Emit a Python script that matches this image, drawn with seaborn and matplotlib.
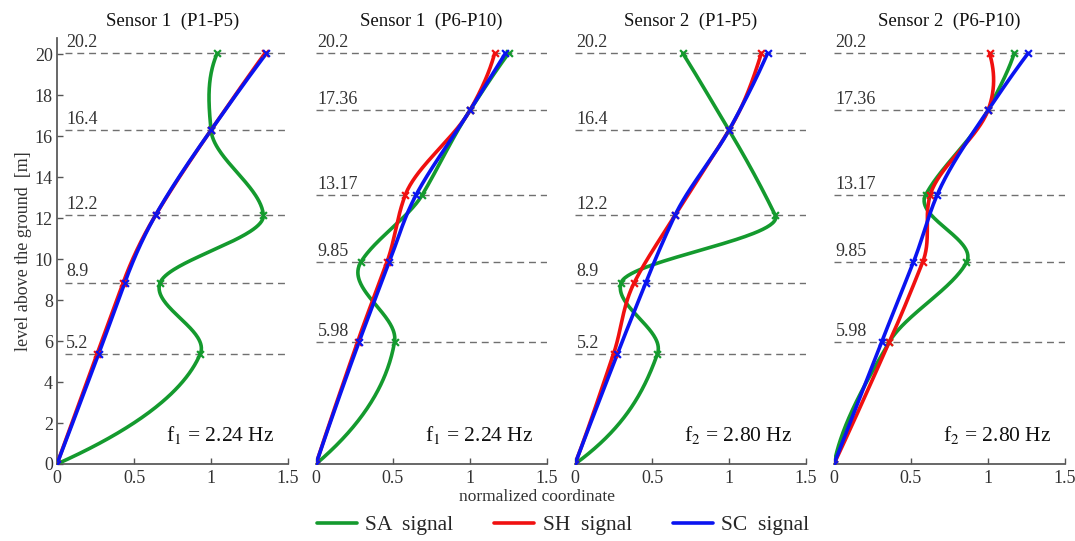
import numpy as np
import pandas as pd
import seaborn as sns
import matplotlib.pyplot as plt
from matplotlib.lines import Line2D

# sensor levels (m) as drawn in the picture, and the labels printed next to them
levels_p1_p5 = [0, 5.37, 8.86, 12.15, 16.3, 20.05]
levels_p6_p10 = [0, 5.97, 9.84, 13.14, 17.27, 20.05]
level_labels_p1 = ['5.2', '8.9', '12.2', '16.4', '20.2']
level_labels_p6 = ['5.98', '9.85', '13.17', '17.36', '20.2']

# normalized mode shape coordinates
s1_p1_sa = [0, 0.93, 0.67, 1.34, 1.0, 1.04]
s1_p1_sh = [0, 0.26, 0.43, 0.64, 1.0, 1.35]
s1_p1_sc = [0, 0.27, 0.44, 0.64, 1.0, 1.36]

s1_p6_sa = [0, 0.51, 0.29, 0.69, 1.0, 1.25]
s1_p6_sh = [0, 0.27, 0.46, 0.58, 1.0, 1.16]
s1_p6_sc = [0, 0.28, 0.475, 0.65, 1.0, 1.23]

s2_p1_sa = [0, 0.535, 0.30, 1.30, 1.0, 0.70]
s2_p1_sh = [0, 0.25, 0.385, 0.65, 1.0, 1.21]
s2_p1_sc = [0, 0.275, 0.46, 0.65, 1.0, 1.25]

s2_p6_sa = [0, 0.36, 0.86, 0.595, 1.0, 1.17]
s2_p6_sh = [0, 0.36, 0.575, 0.625, 1.0, 1.01]
s2_p6_sc = [0, 0.31, 0.515, 0.67, 1.0, 1.26]

titles = ['Sensor 1  (P1-P5)', 'Sensor 1  (P6-P10)', 'Sensor 2  (P1-P5)', 'Sensor 2  (P6-P10)']
freq_labels = ['f$_1$ = 2.24 Hz', 'f$_1$ = 2.24 Hz', 'f$_2$ = 2.80 Hz', 'f$_2$ = 2.80 Hz']

signal_names = ['SA  signal', 'SH  signal', 'SC  signal']
colors = ['#149a2e', '#f01010', '#0a14f0']


def akima(yk, xk, n=400):
    # Akima curve x(y) through the measured points, only used for drawing the line
    yk = np.asarray(yk, float)
    xk = np.asarray(xk, float)
    m = np.diff(xk) / np.diff(yk)
    m = np.concatenate([[3 * m[0] - 2 * m[1], 2 * m[0] - m[1]], m,
                        [2 * m[-1] - m[-2], 3 * m[-1] - 2 * m[-2]]])
    t = np.zeros(len(yk))
    for i in range(len(yk)):
        w1 = abs(m[i + 3] - m[i + 2])
        w2 = abs(m[i + 1] - m[i])
        if w1 + w2 < 1e-12:
            t[i] = 0.5 * (m[i + 1] + m[i + 2])
        else:
            t[i] = (w1 * m[i + 1] + w2 * m[i + 2]) / (w1 + w2)
    ys = np.linspace(yk[0], yk[-1], n)
    idx = np.clip(np.searchsorted(yk, ys) - 1, 0, len(yk) - 2)
    h = yk[idx + 1] - yk[idx]
    s = (ys - yk[idx]) / h
    h00 = 2 * s ** 3 - 3 * s ** 2 + 1
    h10 = s ** 3 - 2 * s ** 2 + s
    h01 = -2 * s ** 3 + 3 * s ** 2
    h11 = s ** 3 - s ** 2
    xs = h00 * xk[idx] + h10 * h * t[idx] + h01 * xk[idx + 1] + h11 * h * t[idx + 1]
    return xs, ys


panels = [
    (levels_p1_p5, level_labels_p1, [s1_p1_sa, s1_p1_sh, s1_p1_sc]),
    (levels_p6_p10, level_labels_p6, [s1_p6_sa, s1_p6_sh, s1_p6_sc]),
    (levels_p1_p5, level_labels_p1, [s2_p1_sa, s2_p1_sh, s2_p1_sc]),
    (levels_p6_p10, level_labels_p6, [s2_p6_sa, s2_p6_sh, s2_p6_sc]),
]

sns.set_theme(style='white')
plt.rcParams['font.family'] = ['Liberation Serif', 'DejaVu Serif']
plt.rcParams['mathtext.fontset'] = 'stix'
txt_col = '#333333'

fig = plt.figure(figsize=(10.75, 5.41), dpi=100)
W, H = 1075, 541

for k, (levels, lab, series) in enumerate(panels):
    left = 57 + k * 259
    ax = fig.add_axes([left / W, 77 / H, 231 / W, 426 / H])

    x0 = 0.05 if k == 0 else 0.0
    for lv, tx in zip(levels[1:], lab):
        ax.plot([x0, 1.5], [lv, lv], color='#707070', lw=1.0, dashes=(5, 3.5), zorder=1)
        ax.text(x0 + 0.01, lv + 0.1, tx, fontsize=13, color=txt_col, ha='left', va='bottom')

    for vals, col in zip(series, colors):
        xs, ys = akima(levels, vals)
        curve = pd.DataFrame({'x': xs, 'y': ys})
        sns.lineplot(data=curve, x='x', y='y', sort=False, color=col, lw=2.6, ax=ax, zorder=3)
        pts = pd.DataFrame({'x': vals, 'y': levels})
        sns.scatterplot(data=pts, x='x', y='y', marker='x', color=col, s=24, linewidth=1.6, ax=ax, zorder=4)

    ax.set_xlim(0, 1.5)
    ax.set_ylim(0, 20.8)
    ax.set_xticks([0, 0.5, 1, 1.5])
    ax.set_xticklabels(['0', '0.5', '1', '1.5'])
    ax.set_xlabel('')
    ax.set_ylabel('')
    ax.set_title(titles[k], fontsize=13.5, color='#111111', pad=9)
    for s in ['top', 'right']:
        ax.spines[s].set_visible(False)
    ax.spines['bottom'].set_color('#555555')
    ax.spines['left'].set_color('#555555')
    ax.tick_params(axis='x', direction='in', length=4, width=1, color='#555555',
                   labelsize=13, labelcolor=txt_col, bottom=True, pad=4)
    if k == 0:
        ax.set_yticks(range(0, 21, 2))
        ax.tick_params(axis='y', direction='in', length=4, width=1, color='#555555',
                       labelsize=13, labelcolor=txt_col, left=True, pad=3)
        ax.set_ylabel('level above the ground  [m]', fontsize=13, color=txt_col, labelpad=2)
    else:
        ax.spines['left'].set_visible(False)
        ax.set_yticks([])
    ax.text(1.06, 1.4, freq_labels[k], fontsize=15.5, color='#111111', ha='center', va='center')
    ax.patch.set_alpha(0)

fig.text(537 / W, 1 - 497 / H, 'normalized coordinate', fontsize=12.5, color=txt_col,
         ha='center', va='center')

handles = [Line2D([0], [0], color=c, lw=2.6) for c in colors]
fig.legend(handles, signal_names, loc='center', bbox_to_anchor=(563 / W, 1 - 525 / H), ncol=3,
           frameon=False, fontsize=15.5, handlelength=1.85, columnspacing=1.9, handletextpad=0.4)

plt.savefig('out.png', dpi=100)
